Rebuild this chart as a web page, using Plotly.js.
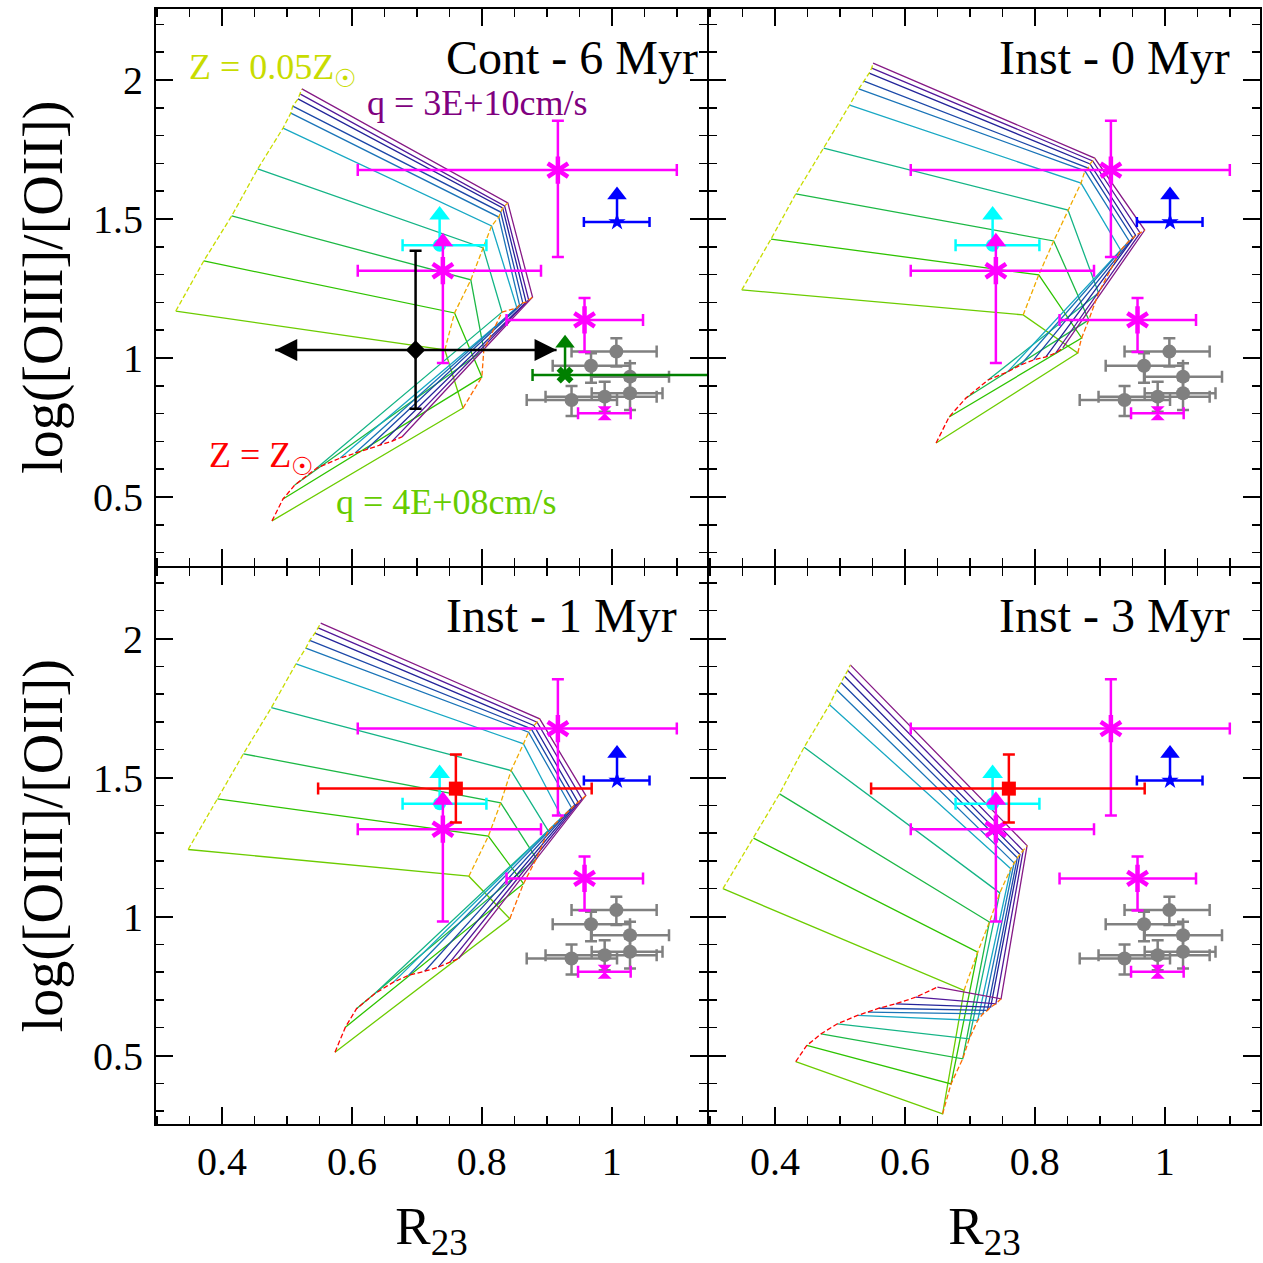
<!DOCTYPE html>
<html>
<head>
<meta charset="utf-8">
<script src="https://cdn.plot.ly/plotly-3.0.1.min.js"></script>
<style>html,body{margin:0;padding:0;background:#fff}#chart{width:1263px;height:1263px}</style>
</head>
<body>
<div id="chart"></div>
<script>
// ---------------- DATA ----------------
const panelNames = ['Cont - 6 Myr', 'Inst - 0 Myr', 'Inst - 1 Myr', 'Inst - 3 Myr'];
const xTickVals = [0.4, 0.6, 0.8, 1.0];
const xTickText = ['0.4', '0.6', '0.8', '1'];
const yTickVals = [0.5, 1.0, 1.5, 2.0];
const yTickText = ['0.5', '1', '1.5', '2'];
const zLabels = ['Z = 0.05Z<sub>☉</sub>', 'Z = Z<sub>☉</sub>'];
const qLabels = ['q = 4E+08cm/s', 'q = 3E+10cm/s'];

// model grids: rows = metallicity (0.05, 0.2, 0.4, 1 Zsun), columns = ionization parameter (low -> high q)
const cont6_R23 = [
  [0.329, 0.372, 0.415, 0.455, 0.494, 0.506, 0.509, 0.517, 0.520, 0.523],
  [0.743, 0.758, 0.783, 0.802, 0.815, 0.826, 0.829, 0.832, 0.835, 0.840],
  [0.771, 0.800, 0.803, 0.831, 0.854, 0.858, 0.863, 0.868, 0.872, 0.878],
  [0.477, 0.494, 0.512, 0.546, 0.582, 0.605, 0.623, 0.643, 0.662, 0.677]
];
const cont6_O32 = [
  [1.169, 1.349, 1.511, 1.680, 1.827, 1.881, 1.906, 1.932, 1.950, 1.968],
  [1.029, 1.162, 1.281, 1.396, 1.475, 1.507, 1.525, 1.540, 1.547, 1.558],
  [0.820, 0.932, 1.029, 1.165, 1.180, 1.191, 1.198, 1.201, 1.209, 1.219],
  [0.414, 0.493, 0.543, 0.604, 0.640, 0.658, 0.673, 0.687, 0.701, 0.716]
];
const inst0_R23 = [
  [0.349, 0.394, 0.432, 0.475, 0.515, 0.529, 0.537, 0.545, 0.549, 0.551],
  [0.782, 0.806, 0.829, 0.851, 0.871, 0.877, 0.882, 0.885, 0.889, 0.892],
  [0.866, 0.872, 0.883, 0.898, 0.932, 0.945, 0.951, 0.955, 0.962, 0.969],
  [0.648, 0.668, 0.694, 0.728, 0.758, 0.778, 0.798, 0.817, 0.832, 0.843]
];
const inst0_O32 = [
  [1.245, 1.428, 1.590, 1.755, 1.910, 1.968, 1.996, 2.025, 2.043, 2.061],
  [1.155, 1.299, 1.421, 1.532, 1.629, 1.673, 1.683, 1.698, 1.709, 1.719],
  [1.018, 1.072, 1.137, 1.234, 1.388, 1.421, 1.432, 1.442, 1.450, 1.460],
  [0.694, 0.788, 0.856, 0.921, 0.950, 0.975, 0.993, 1.004, 1.018, 1.036]
];
const inst1_R23 = [
  [0.348, 0.393, 0.433, 0.476, 0.514, 0.529, 0.535, 0.543, 0.548, 0.552],
  [0.780, 0.810, 0.829, 0.845, 0.864, 0.872, 0.876, 0.880, 0.885, 0.889],
  [0.843, 0.864, 0.884, 0.902, 0.923, 0.938, 0.943, 0.948, 0.954, 0.960],
  [0.574, 0.590, 0.607, 0.635, 0.664, 0.687, 0.712, 0.733, 0.751, 0.764]
];
const inst1_O32 = [
  [1.241, 1.423, 1.585, 1.751, 1.909, 1.965, 1.993, 2.019, 2.038, 2.055],
  [1.145, 1.289, 1.409, 1.525, 1.621, 1.663, 1.675, 1.687, 1.699, 1.711],
  [0.992, 1.118, 1.208, 1.309, 1.357, 1.391, 1.402, 1.411, 1.423, 1.435],
  [0.512, 0.602, 0.668, 0.722, 0.764, 0.788, 0.803, 0.818, 0.836, 0.848]
];
const inst3_R23 = [
  [0.320, 0.367, 0.407, 0.445, 0.484, 0.495, 0.502, 0.507, 0.512, 0.516],
  [0.691, 0.712, 0.730, 0.746, 0.763, 0.768, 0.773, 0.777, 0.782, 0.788],
  [0.658, 0.671, 0.689, 0.699, 0.712, 0.720, 0.727, 0.732, 0.740, 0.748],
  [0.432, 0.449, 0.471, 0.496, 0.527, 0.543, 0.560, 0.586, 0.617, 0.650]
];
const inst3_O32 = [
  [1.100, 1.282, 1.441, 1.609, 1.762, 1.815, 1.841, 1.864, 1.885, 1.905],
  [0.734, 0.872, 0.980, 1.085, 1.172, 1.193, 1.211, 1.223, 1.237, 1.255],
  [0.290, 0.398, 0.488, 0.560, 0.626, 0.650, 0.662, 0.674, 0.686, 0.704],
  [0.478, 0.536, 0.578, 0.614, 0.644, 0.656, 0.670, 0.686, 0.710, 0.746]
];

// observations
const magStar_R23 = [0.917, 0.740, 0.958];
const magStar_O32 = [1.676, 1.314, 1.137];
const magStar_R23_lo = [0.308, 0.131, 0.120];
const magStar_R23_hi = [0.183, 0.151, 0.090];
const magStar_O32_lo = [0.313, 0.332, 0.115];
const magStar_O32_hi = [0.177, 0.0, 0.079];
const magLimit_R23 = [0.740];
const magLimit_O32 = [1.418];
const magSmall_R23 = [0.989];
const magSmall_O32 = [0.801];
const magSmall_R23_lo = [0.041];
const magSmall_R23_hi = [0.040];

const cyan_R23 = [0.735];
const cyan_O32 = [1.406];
const cyan_R23_lo = [0.057];
const cyan_R23_hi = [0.072];
const cyanLimit_O32 = [1.514];

const blue_R23 = [1.008];
const blue_O32 = [1.489];
const blue_R23_lo = [0.051];
const blue_R23_hi = [0.050];
const blueLimit_O32 = [1.586];

const gray_R23 = [1.007, 0.968, 1.028, 0.938, 0.989, 1.028];
const gray_O32 = [1.023, 0.972, 0.933, 0.849, 0.861, 0.873];
const gray_R23_lo = [0.069, 0.059, 0.059, 0.069, 0.091, 0.059];
const gray_R23_hi = [0.062, 0.060, 0.060, 0.070, 0.080, 0.050];
const gray_O32_lo = [0.054, 0.061, 0.054, 0.058, 0.054, 0.060];
const gray_O32_hi = [0.048, 0.045, 0.048, 0.050, 0.054, 0.048];

const black_R23 = [0.698];
const black_O32 = [1.029];
const black_O32_lo = [0.212];
const black_O32_hi = [0.357];
const black_R23_range = [0.482, 0.915];

const green_R23 = [0.928];
const green_O32 = [0.939];
const green_R23_lo = [0.050];
const green_R23_hi = [0.300];
const greenLimit_O32 = [1.053];

const red_R23 = [0.760];
const red_O32 = [1.460];
const red_R23_lo = [0.212];
const red_R23_hi = [0.209];
const red_O32_lo = [0.122];
const red_O32_hi = [0.123];

// ---------------- STYLE ----------------
const qColors = ['#6ccc00', '#2ec300', '#1cb845', '#14b486', '#18a8c4', '#1a74b8', '#1c48a8', '#24249a', '#52189a', '#861a86'];
const zColors = ['#c8dc00', '#f0aa00', '#ff6a00', '#ff0000'];
const SERIF = 'Liberation Serif';

const gridsR = [cont6_R23, inst0_R23, inst1_R23, inst3_R23];
const gridsO = [cont6_O32, inst0_O32, inst1_O32, inst3_O32];
const axesOf = [['x3', 'y3'], ['x4', 'y4'], ['x', 'y'], ['x2', 'y2']];

const traces = [];
function base(xa, ya) { return {type: 'scatter', xaxis: xa, yaxis: ya, showlegend: false, hoverinfo: 'skip', cliponaxis: true}; }

function limitLine(xs, y0, y1, color, xa, ya) {
  const lx = [], ly = [];
  xs.forEach((v, i) => { lx.push(v, v, null); ly.push(y0[i], y1[i], null); });
  return Object.assign(base(xa, ya), {mode: 'lines', x: lx, y: ly, line: {color: color, width: 2.5}});
}
function err(lo, hi, color, w) { return {type: 'data', symmetric: false, array: hi, arrayminus: lo, color: color, thickness: 2.5, width: w}; }

for (let p = 0; p < 4; p++) {
  const [xa, ya] = axesOf[p];
  const R = gridsR[p], O = gridsO[p];
  // constant-q lines
  for (let j = 0; j < R[0].length; j++) {
    traces.push(Object.assign(base(xa, ya), {mode: 'lines', x: R.map(r => r[j]), y: O.map(o => o[j]),
      line: {color: qColors[j], width: 1.3}}));
  }
  // constant-Z lines
  for (let i = 0; i < R.length; i++) {
    traces.push(Object.assign(base(xa, ya), {mode: 'lines', x: R[i], y: O[i],
      line: {color: zColors[i], width: 1.3, dash: '5px,2.5px'}}));
  }

  // gray sample
  traces.push(Object.assign(base(xa, ya), {mode: 'markers', x: gray_R23, y: gray_O32,
    marker: {symbol: 'circle', size: 14, color: '#808080'},
    error_x: err(gray_R23_lo, gray_R23_hi, '#808080', 6), error_y: err(gray_O32_lo, gray_O32_hi, '#808080', 6)}));

  // blue
  traces.push(limitLine(blue_R23, blue_O32, blueLimit_O32, '#0000ff', xa, ya));
  traces.push(Object.assign(base(xa, ya), {mode: 'markers', x: blue_R23, y: blueLimit_O32,
    marker: {symbol: 'triangle-up', size: 17, color: '#0000ff'}}));
  traces.push(Object.assign(base(xa, ya), {mode: 'markers', x: blue_R23, y: blue_O32,
    marker: {symbol: 'star', size: 13, color: '#0000ff'},
    error_x: err(blue_R23_lo, blue_R23_hi, '#0000ff', 5)}));

  // cyan
  traces.push(limitLine(cyan_R23, cyan_O32, cyanLimit_O32, '#00ffff', xa, ya));
  traces.push(Object.assign(base(xa, ya), {mode: 'markers', x: cyan_R23, y: cyanLimit_O32,
    marker: {symbol: 'triangle-up', size: 18, color: '#00ffff'}}));
  traces.push(Object.assign(base(xa, ya), {mode: 'markers', x: cyan_R23, y: cyan_O32,
    marker: {symbol: 'circle', size: 13, color: '#00ffff'},
    error_x: err(cyan_R23_lo, cyan_R23_hi, '#00ffff', 6)}));

  // magenta
  traces.push(limitLine(magLimit_R23, [magStar_O32[1]], magLimit_O32, '#ff00ff', xa, ya));
  traces.push(Object.assign(base(xa, ya), {mode: 'markers', x: magLimit_R23, y: magLimit_O32,
    marker: {symbol: 'triangle-up', size: 18, color: '#ff00ff'}}));
  traces.push(Object.assign(base(xa, ya), {mode: 'markers', x: magStar_R23, y: magStar_O32,
    marker: {symbol: 'y-up-open', size: 17, color: '#ff00ff', line: {color: '#ff00ff', width: 4.5}},
    error_x: err(magStar_R23_lo, magStar_R23_hi, '#ff00ff', 6), error_y: err(magStar_O32_lo, magStar_O32_hi, '#ff00ff', 6)}));
  traces.push(Object.assign(base(xa, ya), {mode: 'markers', x: magStar_R23, y: magStar_O32,
    marker: {symbol: 'y-down-open', size: 17, color: '#ff00ff', line: {color: '#ff00ff', width: 4.5}}}));
  traces.push(Object.assign(base(xa, ya), {mode: 'markers', x: magSmall_R23, y: magSmall_O32,
    marker: {symbol: 'hourglass', size: 14, color: '#ff00ff'},
    error_x: err(magSmall_R23_lo, magSmall_R23_hi, '#ff00ff', 6)}));

  if (p === 0) {
    // black
    traces.push(Object.assign(base(xa, ya), {mode: 'lines', x: black_R23_range, y: [black_O32[0], black_O32[0]],
      line: {color: '#000000', width: 2.5}}));
    traces.push(Object.assign(base(xa, ya), {mode: 'markers', x: [black_R23_range[0]], y: black_O32,
      marker: {symbol: 'arrow-left', size: 22, color: '#000000'}}));
    traces.push(Object.assign(base(xa, ya), {mode: 'markers', x: [black_R23_range[1]], y: black_O32,
      marker: {symbol: 'arrow-right', size: 22, color: '#000000'}}));
    traces.push(Object.assign(base(xa, ya), {mode: 'markers', x: black_R23, y: black_O32,
      marker: {symbol: 'diamond', size: 15, color: '#000000'},
      error_y: err(black_O32_lo, black_O32_hi, '#000000', 6)}));
    // green
    traces.push(limitLine(green_R23, green_O32, greenLimit_O32, '#008000', xa, ya));
    traces.push(Object.assign(base(xa, ya), {mode: 'markers', x: green_R23, y: greenLimit_O32,
      marker: {symbol: 'triangle-up', size: 17, color: '#008000'}}));
    traces.push(Object.assign(base(xa, ya), {mode: 'markers', x: green_R23, y: green_O32,
      marker: {symbol: 'x', size: 15, color: '#008000'},
      error_x: err(green_R23_lo, green_R23_hi, '#008000', 6)}));
  }
  if (p >= 2) {
    traces.push(Object.assign(base(xa, ya), {mode: 'markers', x: red_R23, y: red_O32,
      marker: {symbol: 'square', size: 14, color: '#ff0000'},
      error_x: err(red_R23_lo, red_R23_hi, '#ff0000', 6), error_y: err(red_O32_lo, red_O32_hi, '#ff0000', 6)}));
  }
}

// ---------------- LAYOUT ----------------
function xAxis(domain, anchor, labels) {
  const a = {
    domain: domain, anchor: anchor, range: [0.297, 1.148],
    showline: true, linecolor: '#000', linewidth: 1, mirror: 'allticks',
    ticks: 'inside', ticklen: 18, tickwidth: 2, tickcolor: '#000',
    tickmode: 'array', tickvals: xTickVals, ticktext: xTickText,
    showticklabels: labels, ticklabelstandoff: 1,
    tickfont: {family: SERIF, size: 40, color: '#000'},
    minor: {ticks: 'inside', ticklen: 9, tickwidth: 1.5, tickcolor: '#000', dtick: 0.05, tick0: 0, showgrid: false},
    showgrid: false, zeroline: false, automargin: false
  };
  if (labels) a.title = {text: 'R<sub>23</sub>', font: {family: SERIF, size: 53, color: '#000'}, standoff: 26};
  return a;
}
function yAxis(domain, anchor, labels) {
  const a = {
    domain: domain, anchor: anchor, range: [0.25, 2.259],
    showline: true, linecolor: '#000', linewidth: 1, mirror: 'allticks',
    ticks: 'inside', ticklen: 18, tickwidth: 2, tickcolor: '#000',
    tickmode: 'array', tickvals: yTickVals, ticktext: yTickText,
    showticklabels: labels, ticklabelstandoff: 3,
    tickfont: {family: SERIF, size: 40, color: '#000'},
    minor: {ticks: 'inside', ticklen: 9, tickwidth: 1.5, tickcolor: '#000', dtick: 0.1, tick0: 0, showgrid: false},
    showgrid: false, zeroline: false, automargin: false
  };
  if (labels) a.title = {text: 'log([OIII]/[OII])', font: {family: SERIF, size: 56, color: '#000'}, standoff: 12};
  return a;
}

const panelLabelPos = [[0.523, 0.912], [0.522, 0.912], [0.523, 0.912], [0.522, 0.912]];
const panelRefs = [['x3 domain', 'y3 domain'], ['x4 domain', 'y4 domain'], ['x domain', 'y domain'], ['x2 domain', 'y2 domain']];
const annotations = panelNames.map((t, i) => ({
  text: t, xref: panelRefs[i][0], yref: panelRefs[i][1], x: panelLabelPos[i][0], y: panelLabelPos[i][1],
  xanchor: 'left', yanchor: 'middle', showarrow: false, font: {family: SERIF, size: 48, color: '#000'}
}));
annotations.push(
  {text: zLabels[0], xref: 'x3 domain', yref: 'y3 domain', x: 0.058, y: 0.889, xanchor: 'left', yanchor: 'middle', showarrow: false, font: {family: SERIF, size: 36, color: '#c8dc00'}},
  {text: qLabels[1], xref: 'x3 domain', yref: 'y3 domain', x: 0.379, y: 0.830, xanchor: 'left', yanchor: 'middle', showarrow: false, font: {family: SERIF, size: 36, color: '#800080'}},
  {text: zLabels[1], xref: 'x3 domain', yref: 'y3 domain', x: 0.094, y: 0.195, xanchor: 'left', yanchor: 'middle', showarrow: false, font: {family: SERIF, size: 36, color: '#ff0000'}},
  {text: qLabels[0], xref: 'x3 domain', yref: 'y3 domain', x: 0.3235, y: 0.1147, xanchor: 'left', yanchor: 'middle', showarrow: false, font: {family: SERIF, size: 36, color: '#66cc00'}}
);

const layout = {
  width: 1263, height: 1263,
  margin: {l: 155, r: 2, t: 8, b: 138, pad: 0},
  paper_bgcolor: '#fff', plot_bgcolor: '#fff', showlegend: false,
  font: {family: SERIF, color: '#000'},
  xaxis: xAxis([0, 0.5], 'y', true),
  yaxis: yAxis([0, 0.5], 'x', true),
  xaxis2: xAxis([0.5, 1], 'y2', true),
  yaxis2: yAxis([0, 0.5], 'x2', false),
  xaxis3: xAxis([0, 0.5], 'y3', false),
  yaxis3: yAxis([0.5, 1], 'x3', true),
  xaxis4: xAxis([0.5, 1], 'y4', false),
  yaxis4: yAxis([0.5, 1], 'x4', false),
  shapes: [{type: 'rect', xref: 'paper', yref: 'paper', x0: 0, x1: 1, y0: 0, y1: 1, line: {color: '#000', width: 2}, layer: 'above'}],
  annotations: annotations
};

Plotly.newPlot('chart', traces, layout, {staticPlot: true, displayModeBar: false});
</script>
</body>
</html>
